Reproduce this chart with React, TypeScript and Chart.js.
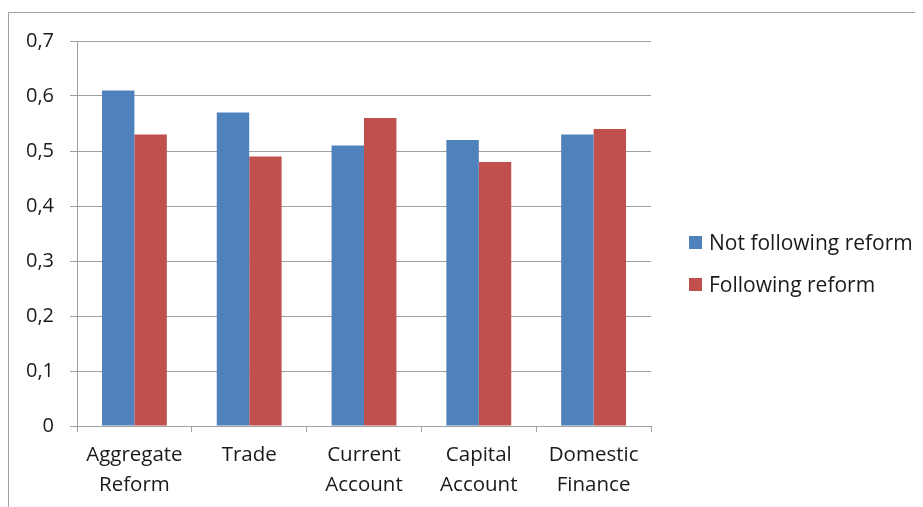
import React, { useEffect, useRef } from "react";
import { Chart, registerables } from "chart.js";

Chart.register(...registerables);

const categories: string[][] = [
  ["Aggregate", "Reform"],
  ["Trade"],
  ["Current", "Account"],
  ["Capital", "Account"],
  ["Domestic", "Finance"],
];
const notFollowing: number[] = [0.61, 0.57, 0.51, 0.52, 0.53];
const following: number[] = [0.53, 0.49, 0.56, 0.48, 0.54];
const seriesNames: string[] = ["Not following reform", "Following reform"];
const seriesColors: string[] = ["#4F81BD", "#C0504D"];

const FONT = "'Open Sans', sans-serif";

export default function App() {
  const ref = useRef<HTMLCanvasElement | null>(null);
  useEffect(() => {
    document.body.style.overflow = "hidden";
    const canvas = ref.current!;
    const chart = new Chart(canvas, {
      type: "bar",
      data: {
        labels: categories,
        datasets: [
          { label: seriesNames[0], data: notFollowing, backgroundColor: seriesColors[0] },
          { label: seriesNames[1], data: following, backgroundColor: seriesColors[1] },
        ],
      },
      options: {
        responsive: false,
        animation: false,
        layout: { padding: { top: 18, right: 273, left: 0, bottom: 0 } },
        datasets: { bar: { categoryPercentage: 0.565, barPercentage: 1 } },
        plugins: { legend: { display: false }, tooltip: { enabled: false } },
        scales: {
          x: {
            afterFit: (s: any) => { s.height = 82; },
            grid: { display: true, drawOnChartArea: false, color: "#a0a0a0", tickLength: 6, offset: true },
            border: { color: "#a0a0a0" },
            ticks: { color: "#1a1a1a", padding: 8, font: { family: FONT, size: 20.5, lineHeight: 1.46 }, maxRotation: 0 },
          },
          y: {
            min: 0,
            max: 0.7,
            afterFit: (s: any) => { s.width = 68; },
            grid: { color: "#a0a0a0", tickLength: 7 },
            border: { color: "#a0a0a0" },
            ticks: {
              stepSize: 0.1,
              color: "#1a1a1a",
              padding: 16,
              font: { family: FONT, size: 20 },
              callback: (v: any) => (Number(v) === 0 ? "0" : Number(v).toFixed(1).replace(".", ",")),
            },
          },
        },
      },
    });
    return () => chart.destroy();
  }, []);

  return (
    <div style={{ position: "relative", marginTop: 4, width: 940, height: 520, border: "1px solid #a0a0a0" }}>
      <canvas ref={ref} width={915} height={495} style={{ display: "block", width: 915, height: 495 }} />
      {seriesNames.map((n, i) => (
        <div
          key={n}
          style={{
            position: "absolute",
            left: 680,
            top: 215 + i * 42,
            display: "flex",
            alignItems: "center",
            fontFamily: FONT,
            fontSize: 21,
            color: "#1a1a1a",
            lineHeight: "28px",
            whiteSpace: "nowrap",
          }}
        >
          <span style={{ display: "inline-block", width: 13, height: 13, background: seriesColors[i], marginRight: 7 }} />
          {n}
        </div>
      ))}
    </div>
  );
}
